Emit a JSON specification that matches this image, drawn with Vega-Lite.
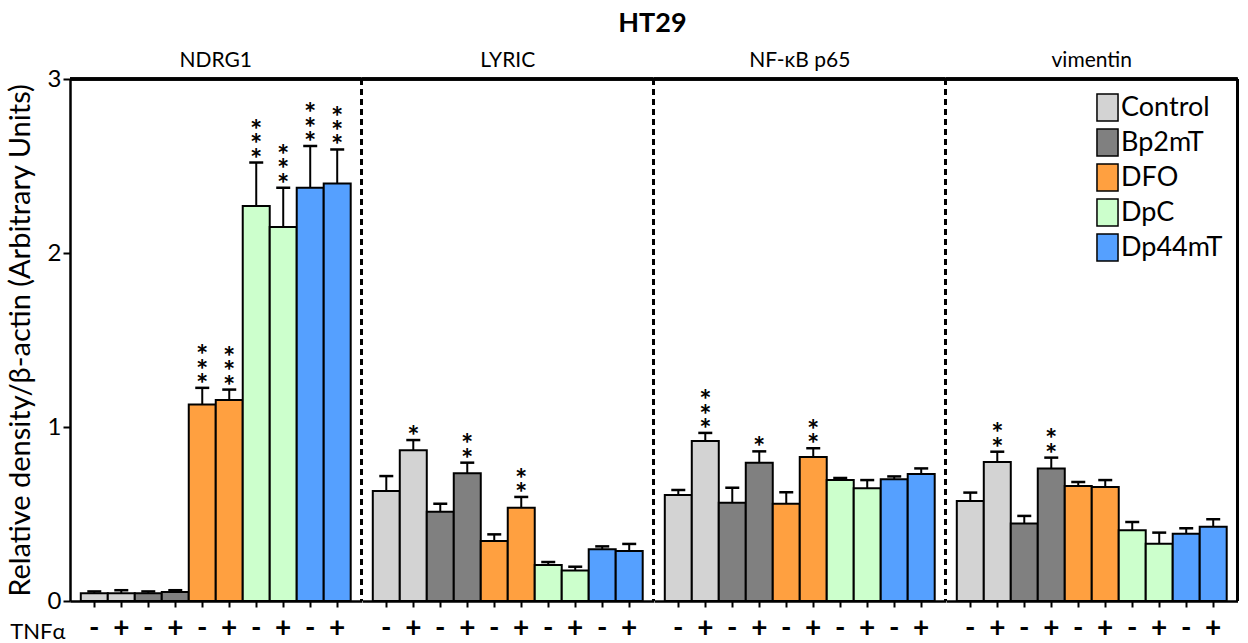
{
  "$schema": "https://vega.github.io/schema/vega-lite/v6.json",
  "padding": {"left": 6, "top": 10, "right": 4, "bottom": 5},
  "bounds": "flush",
  "title": {"text": "HT29", "fontSize": 27, "fontWeight": "bold", "anchor": "middle", "offset": 12, "dx": 30, "color": "black"},
  "data": {"values": [
    {"gene": "NDRG1", "treatment": "Control", "bar": "Control -", "mean": 0.045, "upper": 0.055, "stars": 0},
    {"gene": "NDRG1", "treatment": "Control", "bar": "Control +", "mean": 0.045, "upper": 0.062, "stars": 0},
    {"gene": "NDRG1", "treatment": "Bp2mT", "bar": "Bp2mT -", "mean": 0.045, "upper": 0.055, "stars": 0},
    {"gene": "NDRG1", "treatment": "Bp2mT", "bar": "Bp2mT +", "mean": 0.052, "upper": 0.062, "stars": 0},
    {"gene": "NDRG1", "treatment": "DFO", "bar": "DFO -", "mean": 1.13, "upper": 1.225, "stars": 3},
    {"gene": "NDRG1", "treatment": "DFO", "bar": "DFO +", "mean": 1.155, "upper": 1.215, "stars": 3},
    {"gene": "NDRG1", "treatment": "DpC", "bar": "DpC -", "mean": 2.27, "upper": 2.52, "stars": 3},
    {"gene": "NDRG1", "treatment": "DpC", "bar": "DpC +", "mean": 2.15, "upper": 2.375, "stars": 3},
    {"gene": "NDRG1", "treatment": "Dp44mT", "bar": "Dp44mT -", "mean": 2.375, "upper": 2.615, "stars": 3},
    {"gene": "NDRG1", "treatment": "Dp44mT", "bar": "Dp44mT +", "mean": 2.4, "upper": 2.595, "stars": 3},

    {"gene": "LYRIC", "treatment": "Control", "bar": "Control -", "mean": 0.632, "upper": 0.718, "stars": 0},
    {"gene": "LYRIC", "treatment": "Control", "bar": "Control +", "mean": 0.866, "upper": 0.925, "stars": 1},
    {"gene": "LYRIC", "treatment": "Bp2mT", "bar": "Bp2mT -", "mean": 0.513, "upper": 0.559, "stars": 0},
    {"gene": "LYRIC", "treatment": "Bp2mT", "bar": "Bp2mT +", "mean": 0.734, "upper": 0.795, "stars": 2},
    {"gene": "LYRIC", "treatment": "DFO", "bar": "DFO -", "mean": 0.345, "upper": 0.383, "stars": 0},
    {"gene": "LYRIC", "treatment": "DFO", "bar": "DFO +", "mean": 0.536, "upper": 0.598, "stars": 2},
    {"gene": "LYRIC", "treatment": "DpC", "bar": "DpC -", "mean": 0.207, "upper": 0.224, "stars": 0},
    {"gene": "LYRIC", "treatment": "DpC", "bar": "DpC +", "mean": 0.176, "upper": 0.197, "stars": 0},
    {"gene": "LYRIC", "treatment": "Dp44mT", "bar": "Dp44mT -", "mean": 0.297, "upper": 0.314, "stars": 0},
    {"gene": "LYRIC", "treatment": "Dp44mT", "bar": "Dp44mT +", "mean": 0.287, "upper": 0.328, "stars": 0},

    {"gene": "NF-κB p65", "treatment": "Control", "bar": "Control -", "mean": 0.609, "upper": 0.638, "stars": 0},
    {"gene": "NF-κB p65", "treatment": "Control", "bar": "Control +", "mean": 0.92, "upper": 0.966, "stars": 3},
    {"gene": "NF-κB p65", "treatment": "Bp2mT", "bar": "Bp2mT -", "mean": 0.565, "upper": 0.651, "stars": 0},
    {"gene": "NF-κB p65", "treatment": "Bp2mT", "bar": "Bp2mT +", "mean": 0.795, "upper": 0.86, "stars": 1},
    {"gene": "NF-κB p65", "treatment": "DFO", "bar": "DFO -", "mean": 0.559, "upper": 0.625, "stars": 0},
    {"gene": "NF-κB p65", "treatment": "DFO", "bar": "DFO +", "mean": 0.828, "upper": 0.878, "stars": 2},
    {"gene": "NF-κB p65", "treatment": "DpC", "bar": "DpC -", "mean": 0.695, "upper": 0.707, "stars": 0},
    {"gene": "NF-κB p65", "treatment": "DpC", "bar": "DpC +", "mean": 0.648, "upper": 0.695, "stars": 0},
    {"gene": "NF-κB p65", "treatment": "Dp44mT", "bar": "Dp44mT -", "mean": 0.699, "upper": 0.716, "stars": 0},
    {"gene": "NF-κB p65", "treatment": "Dp44mT", "bar": "Dp44mT +", "mean": 0.73, "upper": 0.762, "stars": 0},

    {"gene": "vimentin", "treatment": "Control", "bar": "Control -", "mean": 0.575, "upper": 0.623, "stars": 0},
    {"gene": "vimentin", "treatment": "Control", "bar": "Control +", "mean": 0.799, "upper": 0.858, "stars": 2},
    {"gene": "vimentin", "treatment": "Bp2mT", "bar": "Bp2mT -", "mean": 0.446, "upper": 0.489, "stars": 0},
    {"gene": "vimentin", "treatment": "Bp2mT", "bar": "Bp2mT +", "mean": 0.761, "upper": 0.824, "stars": 2},
    {"gene": "vimentin", "treatment": "DFO", "bar": "DFO -", "mean": 0.661, "upper": 0.684, "stars": 0},
    {"gene": "vimentin", "treatment": "DFO", "bar": "DFO +", "mean": 0.655, "upper": 0.695, "stars": 0},
    {"gene": "vimentin", "treatment": "DpC", "bar": "DpC -", "mean": 0.406, "upper": 0.454, "stars": 0},
    {"gene": "vimentin", "treatment": "DpC", "bar": "DpC +", "mean": 0.329, "upper": 0.393, "stars": 0},
    {"gene": "vimentin", "treatment": "Dp44mT", "bar": "Dp44mT -", "mean": 0.387, "upper": 0.418, "stars": 0},
    {"gene": "vimentin", "treatment": "Dp44mT", "bar": "Dp44mT +", "mean": 0.427, "upper": 0.47, "stars": 0}
  ]},
  "facet": {
    "column": {
      "field": "gene", "type": "nominal",
      "sort": ["NDRG1", "LYRIC", "NF-κB p65", "vimentin"],
      "header": {"title": null, "labelFontSize": 21, "labelColor": "black", "labelPadding": 8}
    }
  },
  "spacing": 0,
  "spec": {
    "width": 291.5,
    "height": 522,
    "encoding": {
      "x": {
        "field": "bar", "type": "nominal",
        "sort": ["Control -", "Control +", "Bp2mT -", "Bp2mT +", "DFO -", "DFO +", "DpC -", "DpC +", "Dp44mT -", "Dp44mT +"],
        "scale": {"paddingInner": 0, "paddingOuter": 0.4},
        "axis": {
          "title": null,
          "labelExpr": "split(datum.label, ' ')[1]", "labelAngle": 0,
          "labelFontSize": 28, "labelFontWeight": "bold", "labelColor": "black", "labelPadding": 7,
          "tickSize": 6, "tickWidth": 2, "tickColor": "black",
          "domainWidth": 2.5, "domainColor": "black"
        }
      }
    },
    "layer": [
      {
        "mark": {"type": "bar", "stroke": "black", "strokeWidth": 2},
        "encoding": {
          "y": {
            "field": "mean", "type": "quantitative",
            "scale": {"domain": [0, 3], "nice": false},
            "axis": {
              "title": "Relative density/β-actin (Arbitrary Units)",
              "titleFontSize": 29, "titleFontWeight": "normal", "titleColor": "black", "titlePadding": 12,
              "values": [0, 1, 2, 3], "format": "d", "grid": false,
              "labelFontSize": 24, "labelColor": "black", "labelPadding": 2,
              "tickSize": 7, "tickWidth": 2, "tickColor": "black",
              "domainWidth": 2.5, "domainColor": "black"
            }
          },
          "color": {
            "field": "treatment", "type": "nominal",
            "scale": {
              "domain": ["Control", "Bp2mT", "DFO", "DpC", "Dp44mT"],
              "range": ["#d3d3d3", "#808080", "#ffa040", "#ccffcc", "#55a0ff"]
            },
            "legend": {
              "title": null, "orient": "none", "legendX": 1023, "legendY": 14,
              "labelFontSize": 27, "labelColor": "black", "labelOffset": -1,
              "symbolType": "M-0.78,-1H0.78V1H-0.78Z", "symbolSize": 729,
              "symbolStrokeColor": "black", "symbolStrokeWidth": 1.5, "symbolOpacity": 1,
              "rowPadding": 2
            }
          }
        }
      },
      {
        "mark": {"type": "rule", "strokeWidth": 2, "color": "black"},
        "encoding": {
          "y": {"field": "mean", "type": "quantitative"},
          "y2": {"field": "upper"}
        }
      },
      {
        "mark": {"type": "tick", "thickness": 2.5, "size": 14, "color": "black", "opacity": 1},
        "encoding": {
          "y": {"field": "upper", "type": "quantitative"}
        }
      },
      {
        "transform": [{"filter": "datum.stars >= 1"}],
        "mark": {"type": "text", "baseline": "alphabetic", "fontSize": 29, "fontWeight": "bold", "dy": 6, "color": "black", "text": "*"},
        "encoding": {
          "y": {"field": "upper", "type": "quantitative"}
        }
      },
      {
        "transform": [{"filter": "datum.stars >= 2"}],
        "mark": {"type": "text", "baseline": "alphabetic", "fontSize": 29, "fontWeight": "bold", "dy": -8.3, "color": "black", "text": "*"},
        "encoding": {
          "y": {"field": "upper", "type": "quantitative"}
        }
      },
      {
        "transform": [{"filter": "datum.stars >= 3"}],
        "mark": {"type": "text", "baseline": "alphabetic", "fontSize": 29, "fontWeight": "bold", "dy": -22.6, "color": "black", "text": "*"},
        "encoding": {
          "y": {"field": "upper", "type": "quantitative"}
        }
      },
      {
        "transform": [{"filter": "datum.gene === 'NDRG1' && datum.bar === 'Control -'"}],
        "mark": {"type": "text", "align": "left", "baseline": "middle", "fontSize": 22, "dx": -84, "dy": 31, "color": "black", "text": "TNFα"},
        "encoding": {
          "y": {"datum": 0}
        }
      },
      {
        "mark": {"type": "rule", "strokeWidth": 2.5, "color": "black"},
        "encoding": {"x": null, "y": {"datum": 3}}
      },
      {
        "mark": {"type": "rule", "color": "black"},
        "encoding": {
          "x": {"value": "width"},
          "strokeDash": {"condition": {"test": "datum.gene === 'vimentin'", "value": [1, 0]}, "value": [6, 4]},
          "strokeWidth": {"condition": {"test": "datum.gene === 'vimentin'", "value": 2.5}, "value": 2.2}
        }
      }
    ]
  },
  "config": {
    "font": "Lato",
    "view": {"stroke": null}
  }
}
